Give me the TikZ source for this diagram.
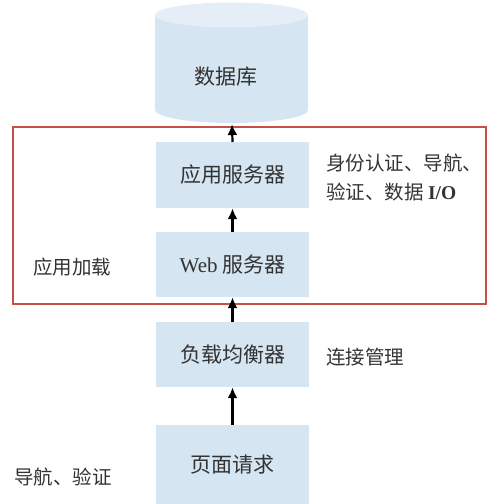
\documentclass[tikz,border=0pt]{standalone}
\usepackage{fontspec}
\setmainfont{Liberation Serif}
\newfontfamily\cjk{Noto Sans CJK SC}
\usetikzlibrary{arrows.meta}
\definecolor{boxblue}{RGB}{213,229,241}
\definecolor{toplight}{RGB}{229,238,247}
\definecolor{framered}{RGB}{198,80,72}
\def\txtsize{\fontsize{21}{29}\selectfont}
\def\notesize{\fontsize{19.5}{29}\selectfont}
\tikzset{
	layer/.style={fill=boxblue, minimum width=153pt, inner sep=0pt, text=black!80, font=\cjk\txtsize},
	note/.style={anchor=west, inner sep=0pt, align=left, text=black!80, font=\cjk\notesize},
	uparrow/.style={line width=2.2pt, -{Latex[length=11pt, width=10pt]}}
}

\begin{document}
\begin{tikzpicture}[x=1pt, y=-1pt]
			%%%%% START %%%%%
			
			\useasboundingbox (0, 0) rectangle (488, 504);
			\clip (0, 0) rectangle (488, 504);
			
			\fill[boxblue] (155, 15) rectangle (308, 110);
			\fill[boxblue] (231.5, 110) ellipse (76.5 and 13);
			\fill[toplight] (231.5, 15) ellipse (76.5 and 12.5);
			\node[inner sep=0pt, text=black!80, font=\cjk\txtsize] (db) at (226, 77) {数据库};
			\coordinate (dbbottom) at (232, 124);
			
			\node[layer, minimum height=66pt] (app) at (232.5, 175) {应用服务器};
			\node[layer, minimum height=65pt] (web) at (232.5, 264.5) {{\rmfamily Web} 服务器};
			\node[layer, minimum height=65pt] (lb) at (232.5, 354.5) {负载均衡器};
			\node[layer, minimum height=80pt] (req) at (232.5, 465) {页面请求};
			
			\draw[framered, line width=2pt] (13, 127) rectangle (486, 304);
			
			\node[note] (auth) at (326, 177.5) {身份认证、导航、\\验证、数据 {\rmfamily\bfseries I/O}};
			\node[note] (conn) at (326, 357) {连接管理};
			\node[note] (load) at (33, 267) {应用加载};
			\node[note] (nav) at (14, 477) {导航、验证};
			
			\draw[uparrow] (req.north) -- (lb.south);
			\draw[uparrow] (lb.north) -- (web.south);
			\draw[uparrow] (web.north) -- (app.south);
			\draw[uparrow] (app.north) -- (dbbottom);
			
			%%%%% END %%%%%
\end{tikzpicture}
\end{document}
